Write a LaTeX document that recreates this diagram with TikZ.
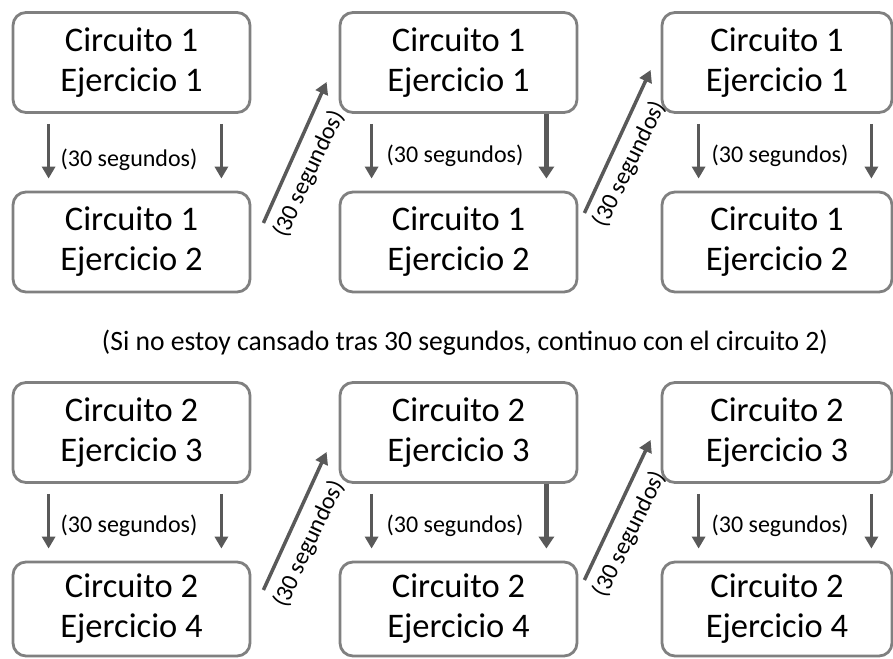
\documentclass[tikz,border=0pt]{standalone}
\usepackage{fontspec}
\setmainfont{Carlito}
\usepackage{graphicx}
\usetikzlibrary{arrows.meta,calc}
\definecolor{boxgray}{RGB}{128,128,128}
\definecolor{arrgray}{RGB}{89,89,89}
\tikzset{
  box/.style={draw=boxgray, line width=2.8pt, rounded corners=13pt,
    minimum width=237pt, minimum height=100pt, inner sep=0pt,
    align=center, text=black, font=\fontsize{34.5}{40}\selectfont,
    execute at begin node={\rule{0pt}{37pt}}},
  narrowbox/.style={minimum width=230pt},
  lowbox/.style={minimum height=94pt},
  arr/.style={draw=arrgray, line width=3.5pt, -{Triangle[width=13pt,length=12pt]}},
  thickarr/.style={draw=arrgray, line width=5pt, -{Triangle[width=15pt,length=12pt]}},
  lbl/.style={font=\fontsize{24}{28}\selectfont, inner sep=0pt, text=black},
}
\begin{document}
\begin{tikzpicture}[x=1pt,y=-1pt]
\useasboundingbox (0,0) rectangle (893,658);
% ---- row 1 ----
\node[box] (a1) at (131.5,62.5) {Circuito 1\\Ejercicio 1};
\node[box] (a2) at (131.5,242) {Circuito 1\\Ejercicio 2};
\node[box] (b1) at (458.5,62.5) {Circuito 1\\Ejercicio 1};
\node[box] (b2) at (458.5,242) {Circuito 1\\Ejercicio 2};
\node[box,narrowbox] (c1) at (777,62.5) {Circuito 1\\Ejercicio 1};
\node[box,narrowbox] (c2) at (777,242) {Circuito 1\\Ejercicio 2};
% ---- row 2 ----
\node[box] (d1) at (131.5,432.5) {Circuito 2\\Ejercicio 3};
\node[box,lowbox] (d2) at (131.5,609) {Circuito 2\\Ejercicio 4};
\node[box] (e1) at (458.5,432.5) {Circuito 2\\Ejercicio 3};
\node[box,lowbox] (e2) at (458.5,609) {Circuito 2\\Ejercicio 4};
\node[box,narrowbox] (f1) at (777,432.5) {Circuito 2\\Ejercicio 3};
\node[box,narrowbox,lowbox] (f2) at (777,609) {Circuito 2\\Ejercicio 4};
% ---- middle text ----
\node[inner sep=0pt, anchor=base, text=black] (mid) at (465,350)
  {\resizebox{726pt}{\height}{\fontsize{28}{34}\selectfont (Si no estoy cansado tras 30 segundos, continuo con el circuito 2)}};
% ---- down arrows row 1 ----
\draw[arr] ($(a1.south west)+(37,10)$) -- ($(a2.north west)+(37,-12)$);
\draw[arr] ($(a1.south east)+(-30,10)$) -- ($(a2.north east)+(-30,-12)$);
\draw[arr] ($(b1.south west)+(33,10)$) -- ($(b2.north west)+(33,-12)$);
\draw[thickarr] ($(b1.south east)+(-32,0)$) -- ($(b2.north east)+(-32,-12)$);
\draw[arr] ($(c1.south west)+(38,10)$) -- ($(c2.north west)+(38,-12)$);
\draw[arr] ($(c1.south east)+(-22,10)$) -- ($(c2.north east)+(-22,-12)$);
\node[lbl, anchor=base] (l1) at (129,166) {(30 segundos)};
\node[lbl, anchor=base] (l2) at (455,162) {(30 segundos)};
\node[lbl, anchor=base] (l3) at (780,162) {(30 segundos)};
% ---- diagonal arrows row 1 ----
\draw[arr] ($(a2.east)+(12,-19)$) -- ($(b1.west)+(-12,19.5)$);
\draw[arr] ($(b2.east)+(6,-29)$) -- ($(c1.west)+(-10,7.5)$);
\node[lbl, rotate=64.9] (l4) at (309,174) {(30 segundos)};
\node[lbl, rotate=63.9] (l5) at (630,164) {(30 segundos)};
% ---- down arrows row 2 ----
\draw[arr] ($(d1.south west)+(37,10)$) -- ($(d2.north west)+(37,-12)$);
\draw[arr] ($(d1.south east)+(-30,10)$) -- ($(d2.north east)+(-30,-12)$);
\draw[arr] ($(e1.south west)+(33,10)$) -- ($(e2.north west)+(33,-12)$);
\draw[thickarr] ($(e1.south east)+(-32,0)$) -- ($(e2.north east)+(-32,-12)$);
\draw[arr] ($(f1.south west)+(38,10)$) -- ($(f2.north west)+(38,-12)$);
\draw[arr] ($(f1.south east)+(-22,10)$) -- ($(f2.north east)+(-22,-12)$);
\node[lbl, anchor=base] (l6) at (129,532) {(30 segundos)};
\node[lbl, anchor=base] (l7) at (455,532) {(30 segundos)};
\node[lbl, anchor=base] (l8) at (780,532) {(30 segundos)};
% ---- diagonal arrows row 2 ----
\draw[arr] ($(d2.east)+(12,-19)$) -- ($(e1.west)+(-12,19.5)$);
\draw[arr] ($(e2.east)+(6,-29)$) -- ($(f1.west)+(-10,7.5)$);
\node[lbl, rotate=64.9] (l9) at (309,544) {(30 segundos)};
\node[lbl, rotate=63.9] (l10) at (630,534) {(30 segundos)};
\end{tikzpicture}
\end{document}
